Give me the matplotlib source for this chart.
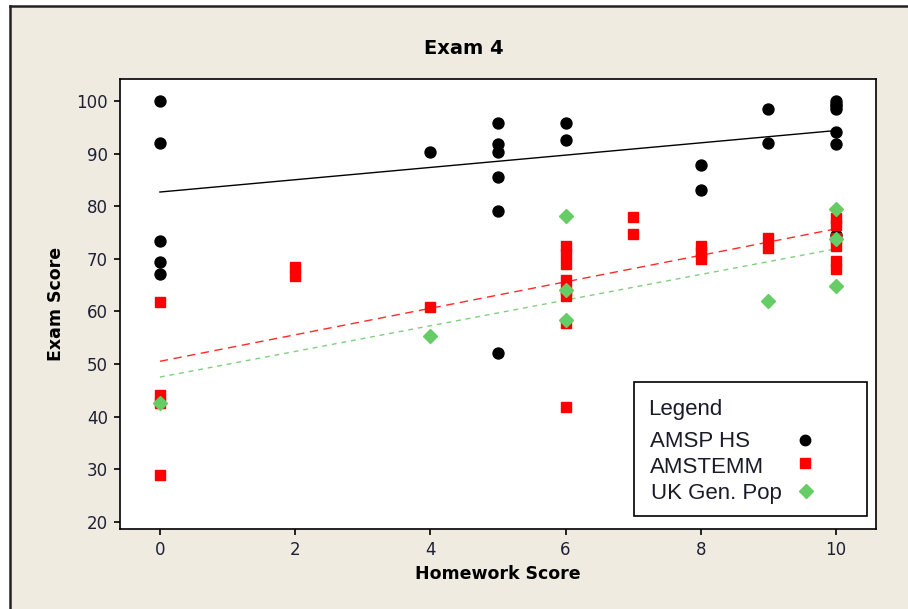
import matplotlib.pyplot as plt
import numpy as np
from matplotlib.patches import Rectangle
from matplotlib.lines import Line2D

# Punkte
amsp_hw = [0, 0, 0, 0, 0, 4, 5, 5, 5, 5, 5, 5, 6, 6, 8, 8, 9, 9,
           10, 10, 10, 10, 10, 10, 10]
amsp_exam = [100, 92, 73.3, 69.4, 67.2, 90.3, 95.9, 91.9, 90.3, 85.5, 79.1, 52.1,
             95.9, 92.6, 87.8, 83.0, 98.4, 92, 100, 99.5, 99, 98.5, 94.2, 91.8, 74.5]

stemm_hw = [0, 0, 0, 0, 2, 2, 4, 6, 6, 6, 6, 6, 6, 6, 6, 7, 7, 8, 8, 8, 9, 9,
            10, 10, 10, 10, 10, 10]
stemm_exam = [61.7, 44, 42.5, 28.8, 68.5, 66.8, 60.8, 72.5, 71, 69, 66, 64, 63, 57.7,
              41.8, 77.9, 74.7, 72.5, 71.3, 70, 74, 72, 77.7, 76.5, 74, 72.5, 69.5, 68]

uk_hw = [0, 4, 6, 6, 6, 9, 10, 10, 10]
uk_exam = [42.5, 55.4, 78.2, 64.1, 58.3, 61.9, 79.4, 73.7, 64.8]

# Regressionsgeraden (Achsenabschnitt / Steigung)
fit_intercept = [82.7, 50.5, 47.5]
fit_slope = [1.17, 2.52, 2.44]
fit_range = [0, 10]

labels = ["AMSP HS", "AMSTEMM", "UK Gen. Pop"]
xticks = [0, 2, 4, 6, 8, 10]
yticks = [20, 30, 40, 50, 60, 70, 80, 90, 100]

beige = '#f0ebe1'
W, H = 908, 609

fig = plt.figure(figsize=(W / 100, H / 100), dpi=100, facecolor='white')
# Hintergrund mit Rahmen links/oben
fig.add_artist(Rectangle((10 / W, 0), 1, 1 - 6 / H, transform=fig.transFigure,
                         facecolor=beige, edgecolor='none', zorder=-10))
fig.add_artist(Line2D([10 / W, 10 / W], [0, 1 - 6 / H], transform=fig.transFigure,
                      color='#222222', lw=1.8))
fig.add_artist(Line2D([10 / W, 1], [1 - 6 / H, 1 - 6 / H], transform=fig.transFigure,
                      color='#222222', lw=1.8))

ax = fig.add_axes([120 / W, 1 - 529 / H, 756 / W, 450 / H])
ax.set_facecolor('white')

ax.plot(amsp_hw, amsp_exam, 'o', color='black', ms=7.9, zorder=3)
ax.plot(stemm_hw, stemm_exam, 's', color='#ff0000', ms=7.9, zorder=3)
ax.plot(uk_hw, uk_exam, 'D', color='#66cc66', ms=7, zorder=4)

xs = np.array(fit_range)
styles = [('black', '-'), ('#ff2a2a', (0, (6, 4))), ('#7fd07f', (0, (3.5, 3.5)))]
for b, m, (c, ls) in zip(fit_intercept, fit_slope, styles):
    ax.plot(xs, m * xs + b, color=c, ls=ls, lw=1.0, zorder=2)

ax.set_xlim(-0.59, 10.59)
ax.set_ylim(18.6, 104.2)
ax.set_xticks(xticks)
ax.set_yticks(yticks)
ax.tick_params(direction='out', length=4.3, width=1.2, pad=4.5,
               labelsize=12, labelcolor='#202035')
for s in ax.spines.values():
    s.set_linewidth(1.2)

ax.set_xlabel("Homework Score", fontsize=12.5, fontweight='bold', labelpad=4)
ax.set_ylabel("Exam Score", fontsize=12.5, fontweight='bold', labelpad=8)
fig.text(464 / W, 1 - 49 / H, "Exam 4", fontsize=14, fontweight='bold',
         ha='center', va='center')

# Legende von Hand, Text linksbuendig, Marker rechts
ax.add_patch(Rectangle((0.680, 0.029), 0.308, 0.298, transform=ax.transAxes,
                       facecolor='white', edgecolor='black', lw=1.2, zorder=5))
lf = dict(family='Liberation Sans', fontsize=16, transform=ax.transAxes,
          va='baseline', ha='left', zorder=6, color='#1a1a2a')
ax.text(0.698, 0.2539, "Legend", **lf)
ax.text(0.701, 0.1826, labels[0], **lf)
ax.text(0.701, 0.1254, labels[1], **lf)
ax.text(0.702, 0.0661, labels[2], **lf)
ax.plot(0.906, 0.198, 'o', color='black', ms=7.5, transform=ax.transAxes, zorder=6)
ax.plot(0.906, 0.147, 's', color='#ff0000', ms=7.5, transform=ax.transAxes, zorder=6)
ax.plot(0.907, 0.0846, 'D', color='#66cc66', ms=7, transform=ax.transAxes, zorder=6)

fig.savefig('out.png', dpi=100, facecolor=fig.get_facecolor())
